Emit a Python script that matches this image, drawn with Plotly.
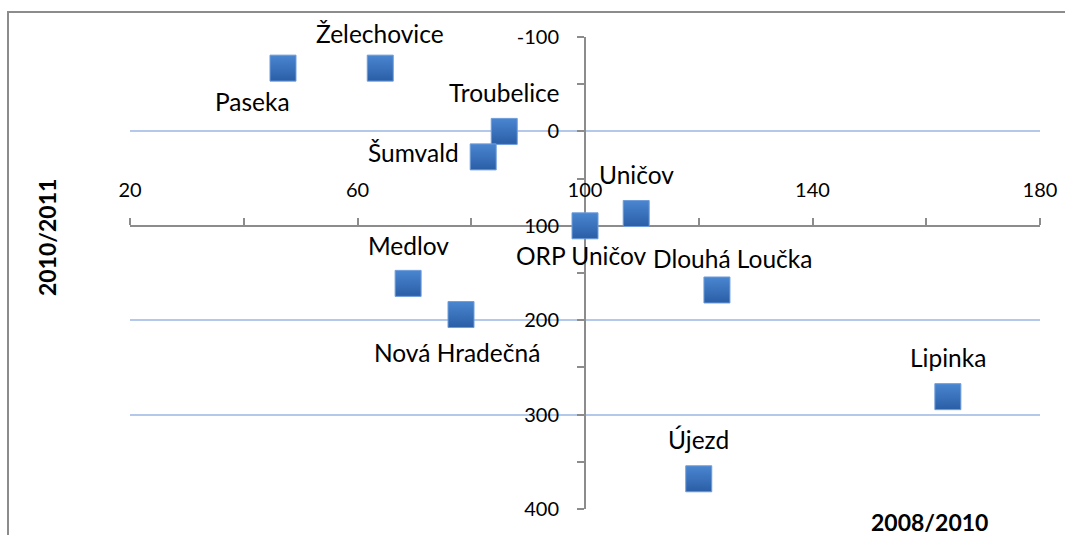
import plotly.graph_objects as go

names = ["Paseka", "Želechovice", "Troubelice", "Šumvald", "Uničov", "ORP Uničov",
         "Medlov", "Nová Hradečná", "Dlouhá Loučka", "Lipinka", "Újezd"]
x_2008_2010 = [46.9, 64.0, 85.8, 82.1, 109.0, 100.0, 68.9, 78.2, 123.2, 163.8, 120.0]
y_2010_2011 = [-67, -67, 0, 27, 87, 100, 161, 194, 168, 281, 368]

y_tick_vals = [-100, 0, 100, 200, 300, 400]
y_tick_text = ["-100", "0", "100", "200", "300", "400"]

# label offsets (pixels) for each point's data label
label_dx = [-30, 0, 0, -70, 0, -4, 0, -4, 16, 0, 0]
label_dy = [-33, 35, 39, 4, 39, -30, 38, -38, 31, 39, 39]

x_title = "2008/2010"
y_title = "2010/2011"

FONT = "Lato"

fig = go.Figure()
fig.add_trace(go.Scatter(
    x=x_2008_2010, y=y_2010_2011, mode="markers",
    marker=dict(symbol="square", size=26, color="#4a86d0",
                gradient=dict(type="vertical", color="#2a5ea6"),
                line=dict(color="#6f9ddb", width=1)),
    showlegend=False, hoverinfo="skip"))

for n, xv, yv, dx, dy in zip(names, x_2008_2010, y_2010_2011, label_dx, label_dy):
    fig.add_annotation(x=xv, y=yv, xref="x", yref="y", text=n, showarrow=False,
                       xshift=dx, yshift=dy, xanchor="center", yanchor="middle",
                       font=dict(family=FONT, size=24.5, color="#000000"))

fig.add_annotation(xref="paper", yref="paper", x=-0.0912, y=0.574, text="<b>" + y_title + "</b>",
                   textangle=-90, showarrow=False, xanchor="center", yanchor="middle",
                   font=dict(family=FONT, size=23, color="#000000"))
fig.add_annotation(xref="paper", yref="paper", x=0.879, y=-0.0275, text="<b>" + x_title + "</b>",
                   showarrow=False, xanchor="center", yanchor="middle",
                   font=dict(family=FONT, size=23, color="#000000"))

# outer chart border
fig.add_shape(type="rect", xref="paper", yref="paper",
              x0=(8 - 130) / 910, x1=(1080 - 130) / 910,
              y0=-0.1, y1=1 + 25 / 472,
              line=dict(color="#8c8c8c", width=2), fillcolor="rgba(0,0,0,0)", layer="below")

fig.update_layout(
    width=1065, height=535,
    margin=dict(l=130, r=25, t=37, b=26, autoexpand=False),
    paper_bgcolor="white", plot_bgcolor="white",
    font=dict(family=FONT, size=20, color="#000000"),
    xaxis=dict(range=[20, 180], dtick=40, tick0=20, showgrid=False, zeroline=False,
               automargin=False,
               anchor="free", position=0.6, side="top",
               showline=True, linecolor="#8c8c8c", linewidth=2,
               ticks="outside", ticklen=7, tickcolor="#8c8c8c", tickwidth=1.5,
               minor=dict(dtick=20, tick0=20, ticks="outside", ticklen=7,
                          tickcolor="#8c8c8c", tickwidth=1.5, showgrid=False),
               ticklabelstandoff=13, layer="below traces",
               tickfont=dict(family=FONT, size=20)),
    yaxis=dict(range=[400, -100], tickmode="array", tickvals=y_tick_vals, ticktext=y_tick_text,
               automargin=False,
               showgrid=True, gridcolor="#b4c8ea", gridwidth=2, zeroline=False,
               anchor="free", position=0.5,
               showline=True, linecolor="#8c8c8c", linewidth=2,
               ticks="outside", ticklen=7, tickcolor="#8c8c8c", tickwidth=1.5,
               minor=dict(dtick=50, tick0=0, ticks="outside", ticklen=7,
                          tickcolor="#8c8c8c", tickwidth=1.5, showgrid=False),
               ticklabelstandoff=14, layer="below traces",
               tickfont=dict(family=FONT, size=20)),
)

fig.write_html("out.html", config={"displayModeBar": False},
               post_script="document.body.style.margin='0';document.body.style.overflow='hidden';")
